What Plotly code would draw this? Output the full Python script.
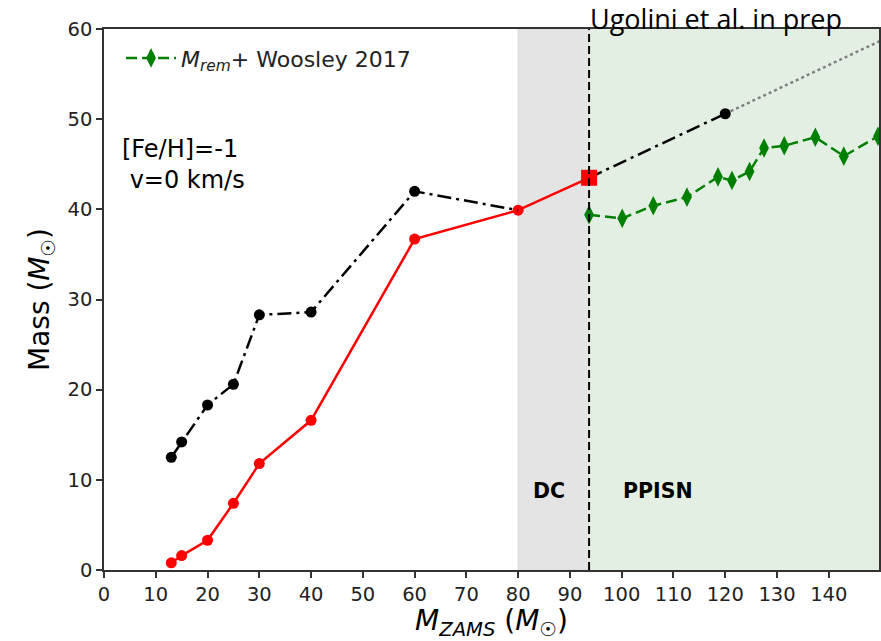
import plotly.graph_objects as go

# Data
black_x = [13, 15, 20, 25, 30, 40, 60, 80]
black_y = [12.5, 14.2, 18.3, 20.6, 28.3, 28.6, 42.0, 39.9]

red_x = [13, 15, 20, 25, 30, 40, 60, 80]
red_y = [0.8, 1.6, 3.3, 7.4, 11.8, 16.6, 36.7, 39.9]

red_sq_x = [93.7]
red_sq_y = [43.5]

ext_x = [93.7, 120]
ext_y = [43.5, 50.6]

dot_x = [120, 150]
dot_y = [50.6, 58.7]

green_x = [93.7, 100.1, 106.1, 112.6, 118.6, 121.3, 124.7, 127.5, 131.4, 137.4, 142.9, 149.5]
green_y = [39.4, 39.0, 40.4, 41.35, 43.6, 43.2, 44.2, 46.8, 47.05, 48.0, 45.9, 48.1]

dc_start = 80
ppisn_start = 93.7
x_end = 150

xticks = list(range(0, 150, 10))
yticks = list(range(0, 70, 10))

FONT = "DejaVu Sans"
DASHDOT = "14px,5px,3px,5px"

fig = go.Figure()

# Red line with circles
fig.add_trace(go.Scatter(x=red_x, y=red_y, mode="lines+markers",
                         line=dict(color="red", width=2.5),
                         marker=dict(color="red", size=11, symbol="circle"),
                         showlegend=False))
fig.add_trace(go.Scatter(x=[red_x[-1], red_sq_x[0]], y=[red_y[-1], red_sq_y[0]], mode="lines",
                         line=dict(color="red", width=2.5), showlegend=False))
# Black dash-dot
fig.add_trace(go.Scatter(x=black_x, y=black_y, mode="lines",
                         line=dict(color="black", width=2.5, dash=DASHDOT),
                         showlegend=False))
fig.add_trace(go.Scatter(x=black_x[:-1], y=black_y[:-1], mode="markers",
                         marker=dict(color="black", size=11, symbol="circle"),
                         showlegend=False))
# Extension
fig.add_trace(go.Scatter(x=dot_x, y=dot_y, mode="lines",
                         line=dict(color="gray", width=2.5, dash="dot"),
                         showlegend=False))
fig.add_trace(go.Scatter(x=ext_x, y=ext_y, mode="lines",
                         line=dict(color="black", width=2.5, dash=DASHDOT),
                         showlegend=False))
fig.add_trace(go.Scatter(x=[ext_x[-1]], y=[ext_y[-1]], mode="markers",
                         marker=dict(color="black", size=11, symbol="circle"),
                         showlegend=False))
# Green
fig.add_trace(go.Scatter(x=green_x, y=green_y, mode="lines+markers",
                         line=dict(color="green", width=2.5, dash="11px,5px"),
                         marker=dict(color="green", size=14, symbol="diamond-tall"),
                         name="<i>M</i><sub><i>rem</i></sub>+ Woosley 2017",
                         showlegend=True))
# Red square
fig.add_trace(go.Scatter(x=red_sq_x, y=red_sq_y, mode="markers",
                         marker=dict(color="red", size=16, symbol="square"),
                         showlegend=False, cliponaxis=False))

fig.add_shape(type="rect", xref="x", yref="y", x0=dc_start, x1=ppisn_start, y0=0, y1=60,
              fillcolor="#e4e4e4", line=dict(color="#d8d8d8", width=1), layer="below")
fig.add_shape(type="rect", xref="x", yref="y", x0=ppisn_start, x1=x_end, y0=0, y1=60,
              fillcolor="#e4efe3", line=dict(width=0), layer="below")
fig.add_shape(type="line", xref="x", yref="y", x0=ppisn_start, x1=ppisn_start, y0=0, y1=60,
              line=dict(color="black", width=2, dash="8px,4px"), layer="above")

fig.add_annotation(x=86, y=8.8, xref="x", yref="y", text="<b>DC</b>", showarrow=False,
                   font=dict(family=FONT, size=20.5, color="black"))
fig.add_annotation(x=107, y=8.8, xref="x", yref="y", text="<b>PPISN</b>", showarrow=False,
                   font=dict(family=FONT, size=20.5, color="black"))
fig.add_annotation(x=3, y=45.0, xref="x", yref="y", text="[Fe/H]=-1<br> v=0 km/s", showarrow=False,
                   xanchor="left", yanchor="middle", align="left",
                   font=dict(family=FONT, size=24, color="black"))
fig.add_annotation(x=(718 - 104) / 777, y=1.02, xref="paper", yref="paper",
                   text="Ugolini et al. in prep", showarrow=False,
                   xanchor="center", yanchor="middle",
                   font=dict(family="Open Sans", size=27, color="black"))

axis_common = dict(showgrid=False, zeroline=False, showline=True, linecolor="#333",
                   linewidth=1.5, ticks="outside", ticklen=6, tickwidth=1.5, tickcolor="#333",
                   tickfont=dict(family=FONT, size=19.5, color="#222"), mirror=True)

fig.update_layout(
    width=881, height=641,
    margin=dict(l=104, r=0, t=29, b=71),
    plot_bgcolor="white", paper_bgcolor="white",
    xaxis=dict(range=[0, 149.7], tickvals=xticks, **axis_common,
               title=dict(text="<i>M</i><sub><i>ZAMS</i></sub> (<i>M</i><sub>☉</sub>)",
                          font=dict(family=FONT, size=28, color="black"), standoff=3)),
    yaxis=dict(range=[0, 60], tickvals=yticks, **axis_common,
               title=dict(text="Mass (<i>M</i><sub>☉</sub>)",
                          font=dict(family=FONT, size=28, color="black"), standoff=10)),
    legend=dict(x=0.022, y=0.985, xanchor="left", yanchor="top", bgcolor="rgba(0,0,0,0)",
                itemwidth=50,
                font=dict(family=FONT, size=22, color="#222")),
)

fig.write_html("out.html")
